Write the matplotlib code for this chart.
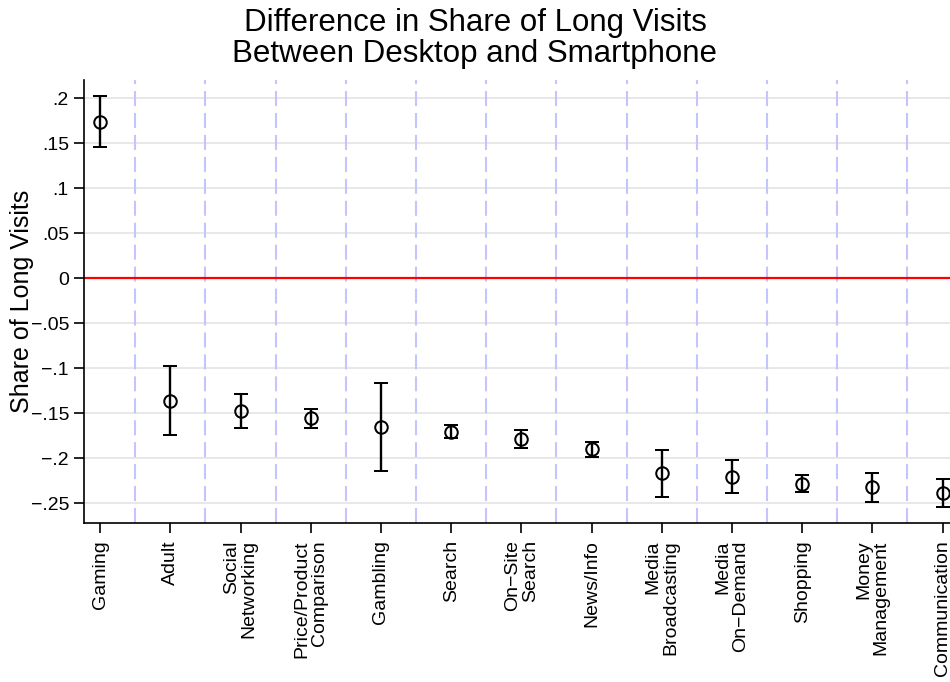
import numpy as np
import matplotlib
matplotlib.use("Agg")
import matplotlib.pyplot as plt

plt.rcParams["font.family"] = ["Liberation Sans", "DejaVu Sans"]
plt.rcParams["lines.scale_dashes"] = False

# Point estimates and 95% confidence bounds by site category
categories = [
    "Gaming", "Adult", "Social\nNetworking", "Price/Product\nComparison",
    "Gambling", "Search", "On\u2212Site\nSearch", "News/Info",
    "Media\nBroadcasting", "Media\nOn\u2212Demand", "Shopping",
    "Money\nManagement", "Communication",
]
estimate = [0.174, -0.136, -0.147, -0.1556, -0.165, -0.1704, -0.1786,
            -0.190, -0.2167, -0.2204, -0.228, -0.232, -0.239]
ci_low = [0.1456, -0.1738, -0.166, -0.1667, -0.2145, -0.1775, -0.189,
          -0.198, -0.2426, -0.239, -0.237, -0.248, -0.2544]
ci_high = [0.2026, -0.0978, -0.128, -0.145, -0.1163, -0.1625, -0.168,
           -0.182, -0.191, -0.202, -0.219, -0.216, -0.223]

y_ticks = [0.2, 0.15, 0.1, 0.05, 0.0, -0.05, -0.1, -0.15, -0.2, -0.25]
y_tick_labels = [".2", ".15", ".1", ".05", "0", "\u2212.05", "\u2212.1",
                 "\u2212.15", "\u2212.2", "\u2212.25"]

W, H = 950, 682
fig = plt.figure(figsize=(W / 100, H / 100), dpi=100)
left_px, right_px, top_px, bottom_px = 84, 958.7, 80, 523.3
ax = fig.add_axes([left_px / W, (H - bottom_px) / H,
                   (right_px - left_px) / W, (bottom_px - top_px) / H])

x = np.arange(len(categories))
est = np.array(estimate)
lo = np.array(ci_low)
hi = np.array(ci_high)

# horizontal grid
for yv in y_ticks:
    ax.axhline(yv, color="#e4e4e4", lw=1.2, zorder=0)

# category separators
for xv in x[:-1] + 0.5:
    ax.axvline(xv, color="#c4c4ff", lw=1.5, dashes=(10.8, 5.0), zorder=1)

ax.axhline(0, color="red", lw=1.6, zorder=2)

ax.errorbar(x, est, yerr=[est - lo, hi - est], fmt="o", mfc="none",
            mec="black", ecolor="black", ms=9, mew=1.45, elinewidth=1.7,
            capsize=4.7, capthick=1.7, zorder=3)

ax.set_xlim(-0.23, 12.23)
ax.set_ylim(-0.2722, 0.2203)

ax.set_yticks(y_ticks)
ax.set_yticklabels(y_tick_labels, fontsize=14)
ax.set_xticks(x)
ax.set_xticklabels(categories, rotation=90, fontsize=14, ha="center",
                   va="top", multialignment="right", linespacing=1.05)

ax.tick_params(axis="y", length=7.2, width=1.2, pad=3.6)
ax.tick_params(axis="x", length=7.2, width=1.2, pad=5)

for s in ["top", "right"]:
    ax.spines[s].set_visible(False)
for s in ["left", "bottom"]:
    ax.spines[s].set_linewidth(1.2)

ax.set_ylabel("Share of Long Visits", fontsize=18)
ax.yaxis.set_label_coords((34 - left_px) / (right_px - left_px), 0.5)

fig.text(0.5, 1 - 8 / H,
         "Difference in Share of Long Visits\nBetween Desktop and Smartphone",
         ha="center", va="top", fontsize=22.5, linespacing=1.06)

fig.savefig("out.png", dpi=100, facecolor="white")
